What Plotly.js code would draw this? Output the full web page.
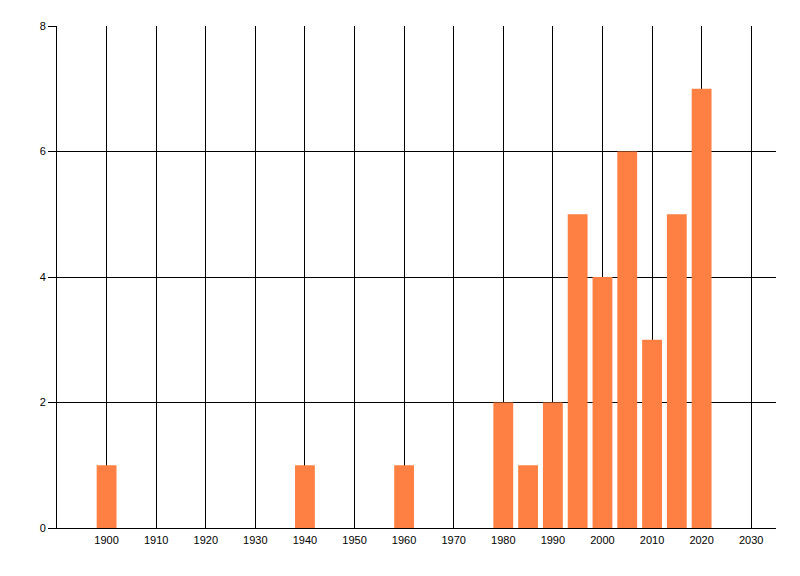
<!DOCTYPE html>
<html>
<head>
<meta charset="utf-8">
<script src="https://cdn.plot.ly/plotly-3.0.1.min.js"></script>
<style>html,body{margin:0;padding:0;background:#fff;}#chart{width:800px;height:576px;}</style>
</head>
<body>
<div id="chart"></div>
<script>
var years = [1900, 1940, 1960, 1980, 1985, 1990, 1995, 2000, 2005, 2010, 2015, 2020];
var counts = [1, 1, 1, 2, 1, 2, 5, 4, 6, 3, 5, 7];
var xTickVals = [1900, 1910, 1920, 1930, 1940, 1950, 1960, 1970, 1980, 1990, 2000, 2010, 2020, 2030];
var xTickText = ['1900', '1910', '1920', '1930', '1940', '1950', '1960', '1970', '1980', '1990', '2000', '2010', '2020', '2030'];
var yTickVals = [0, 2, 4, 6, 8];

var trace = {
  type: 'bar',
  x: years,
  y: counts,
  width: 4,
  marker: {color: '#FF8042', line: {width: 0}},
  hoverinfo: 'x+y'
};

var layout = {
  width: 800,
  height: 576,
  margin: {l: 57, r: 24, t: 26, b: 48, pad: 0},
  paper_bgcolor: '#ffffff',
  plot_bgcolor: '#ffffff',
  showlegend: false,
  font: {family: 'Liberation Sans, Arial, sans-serif', size: 11, color: '#000'},
  xaxis: {
    range: [1890, 2035],
    tickvals: xTickVals,
    ticktext: xTickText,
    showgrid: true,
    gridcolor: '#000',
    gridwidth: 1,
    showline: true,
    linecolor: '#000',
    linewidth: 1,
    ticks: '',
    zeroline: false,
    ticklabelstandoff: 2
  },
  yaxis: {
    range: [0, 8],
    tickvals: yTickVals,
    showgrid: true,
    gridcolor: '#000',
    gridwidth: 1,
    showline: true,
    linecolor: '#000',
    linewidth: 1,
    ticks: 'outside',
    ticklen: 8,
    tickcolor: '#000',
    tickwidth: 1,
    zeroline: false,
    ticklabelstandoff: 0
  }
};

Plotly.newPlot('chart', [trace], layout, {displayModeBar: false, staticPlot: true});
</script>
</body>
</html>
